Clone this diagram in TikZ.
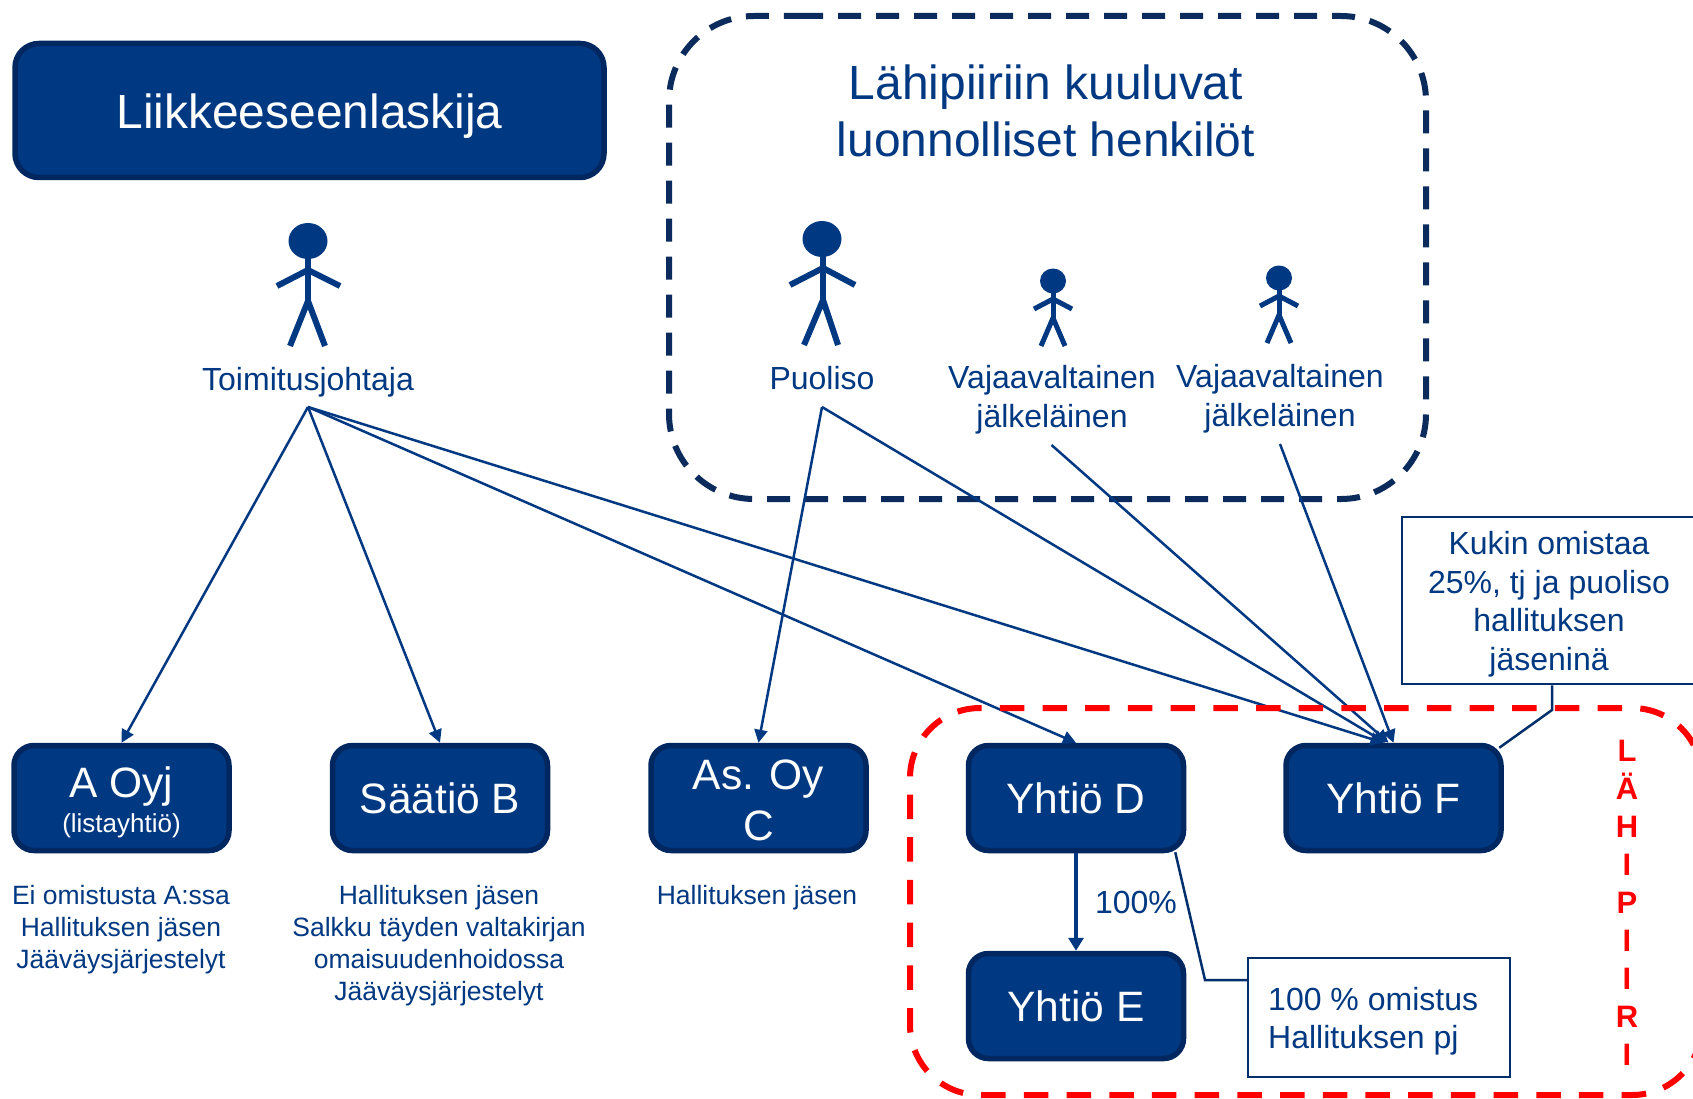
\documentclass[tikz,border=0pt]{standalone}
\usepackage{fontspec}
\setmainfont{Liberation Sans}
\usetikzlibrary{arrows.meta}
\definecolor{navy}{HTML}{003882}
\definecolor{navyedge}{HTML}{00275F}
\definecolor{frame}{HTML}{0B2B5C}
\definecolor{calloutline}{HTML}{002F6C}
\tikzset{
  box/.style={draw=navyedge,fill=navy,line width=5.5pt,rounded corners=20pt,inner sep=0pt,
    minimum width=215pt,minimum height=105pt,text=white,align=center,
    font=\fontsize{42.5}{51}\selectfont},
  oneline/.style={text height=40pt,text depth=10pt},
  titlebox/.style={box,minimum width=589pt,minimum height=134pt,rounded corners=24pt,
    font=\fontsize{47.9}{56}\selectfont,text height=45pt,text depth=8pt},
  lbl/.style={anchor=base,inner sep=0pt,text=navy,align=center,font=\fontsize{32}{38.5}\selectfont},
  heading/.style={lbl,font=\fontsize{47.9}{57}\selectfont},
  caption/.style={lbl,font=\fontsize{26.5}{31.8}\selectfont},
  note/.style={draw=calloutline,line width=2.5pt,fill=white,inner sep=0pt},
  calloutwire/.style={draw=calloutline,line width=2.5pt,line join=miter},
  link/.style={draw=navy,line width=2.5pt,-{Triangle[length=13pt,width=13pt]}},
  limb/.style={draw=navy,line width=6pt},
  childlimb/.style={draw=navy,line width=5pt},
}
\begin{document}
\begin{tikzpicture}[x=1pt,y=-1pt]
\useasboundingbox (0,0) rectangle (1693,1099);
\fill[white] (0,0) rectangle (1693,1099);

% frame of the related natural persons
\draw[frame,line width=6pt,dash pattern=on 23pt off 15pt,rounded corners=85pt]
  (800,16) -- (1426,16) -- (1426,499) -- (669,499) -- (669,16) -- (800,16);

% header and companies
\node[titlebox] (issuer) at (309.5,110.5) {Liikkeeseenlaskija};
\node[box] (a) at (121.5,798) {\rule{0pt}{38.5pt}A Oyj\\[-16pt]{\fontsize{26}{30}\selectfont (listayhtiö)}};
\node[box,oneline] (b) at (440,798) {Säätiö B};
\node[box] (c) at (758.5,798) {\rule{0pt}{34.5pt}As. Oy\\C};
\node[box,oneline] (d) at (1076,798) {Yhtiö D};
\node[box,oneline] (e) at (1076,1006) {Yhtiö E};
\node[box,oneline] (f) at (1393.5,798) {Yhtiö F};

% people
\fill[navy] (308,241) ellipse [x radius=19.5pt,y radius=18pt];
\draw[limb] (308,255) -- (308,301);
\draw[limb] (277,286) -- (308,270) -- (340,286);
\draw[limb] (290,346) -- (308,301) -- (325,346);

\fill[navy] (822,239) ellipse [x radius=19.5pt,y radius=18pt];
\draw[limb] (823,255) -- (823,300);
\draw[limb] (790,285) -- (823,268) -- (855,285);
\draw[limb] (804,345) -- (823,300) -- (838,345);

\fill[navy] (1053,281) ellipse [x radius=13pt,y radius=12.5pt];
\draw[childlimb] (1053,290) -- (1053,318);
\draw[childlimb] (1034,309) -- (1053,299) -- (1072,309);
\draw[childlimb] (1041,346) -- (1053,318) -- (1065,346);

\fill[navy] (1279,278) ellipse [x radius=13pt,y radius=12.5pt];
\draw[childlimb] (1279,287) -- (1279,315);
\draw[childlimb] (1260,306) -- (1279,296) -- (1298,306);
\draw[childlimb] (1267,343) -- (1279,315) -- (1291,343);

% labels
\node[heading] (title) at (1046,157) {Lähipiiriin kuuluvat\\luonnolliset henkilöt};
\node[lbl] (tj) at (308,390) {Toimitusjohtaja};
\node[lbl] (spouse) at (822,389) {Puoliso};
\node[lbl] (child1) at (1052,427) {Vajaavaltainen\\jälkeläinen};
\node[lbl] (child2) at (1280,426) {Vajaavaltainen\\jälkeläinen};
\node[caption] (capa) at (121,968.5) {Ei omistusta A:ssa\\Hallituksen jäsen\\Jääväysjärjestelyt};
\node[caption] (capb) at (439,1000) {Hallituksen jäsen\\Salkku täyden valtakirjan\\omaisuudenhoidossa\\Jääväysjärjestelyt};
\node[caption] (capc) at (757,904.5) {Hallituksen jäsen};
\node[lbl] (pct) at (1136,913) {100\%};

% notes
\node[note,minimum width=300pt,minimum height=167pt] (kukin) at (1552,600.5) {};
\node[lbl] (kukintxt) at (1549,670) {Kukin omistaa\\25\%, tj ja puoliso\\hallituksen\\jäseninä};
\node[note,minimum width=262pt,minimum height=119pt] (omistus) at (1379,1017.5) {};
\node[lbl,align=left,anchor=base west] (omistustxt) at (1268,1048.5) {100 \% omistus\\Hallituksen pj};

% connector origins
\coordinate (tjout) at (308,407);
\coordinate (spout) at (822,407);
\coordinate (c1out) at (1051.5,445);
\coordinate (c2out) at (1280,444);
\coordinate (fbend) at (1552,710);
\coordinate (dbend) at (1205,980);

\draw[link] (tjout) -- (a.north);
\draw[link] (tjout) -- (b.north);
\draw[link] (tjout) -- (d.north);
\draw[link] (tjout) -- ([xshift=-10pt]f.north);
\draw[link] (spout) -- (c.north);
\draw[link] (spout) -- ([xshift=-8pt]f.north);
\draw[link] (c1out) -- ([xshift=-5pt]f.north);
\draw[link] (c2out) -- (f.north);
\draw[draw=navy,line width=4.5pt,-{Triangle[length=13pt,width=15pt]}] (d.south) -- (e.north);

\draw[calloutwire] (kukin.south) -- (fbend) -- ([xshift=-4.5pt,yshift=-5pt]f.north east);
\draw[calloutwire] ([xshift=-11pt,yshift=1pt]d.south east) -- (dbend) -- (omistus.west |- dbend);

% related-party frame: path starts and ends off the page
\draw[red,line width=6pt,dash pattern=on 24.5pt off 18.2pt,dash phase=35.4pt,rounded corners=70pt]
  (1702,900) -- (1702,1095) -- (910,1095) -- (910,708) -- (1702,708) -- (1702,900);
\node[anchor=base,inner sep=0pt,text=red,align=center,font=\fontsize{31}{37.9}\bfseries\selectfont] (lahi) at (1627,1065)
  {L\\Ä\\H\\I\\P\\I\\I\\R\\I};
\end{tikzpicture}
\end{document}
